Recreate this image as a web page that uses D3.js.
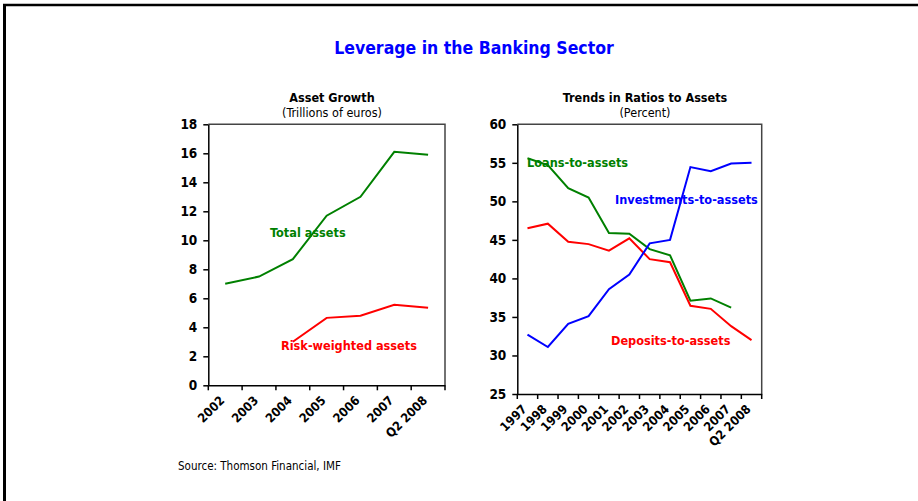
<!DOCTYPE html>
<html>
<head>
<meta charset="utf-8">
<script src="https://cdn.jsdelivr.net/npm/d3@7"></script>
<style>
  body { margin: 0; background: #fff; }
  svg text { font-family: "DejaVu Sans Condensed", "DejaVu Sans", sans-serif; }
</style>
</head>
<body>
<div id="chart"></div>
<script>
// Leverage in the Banking Sector - two panels

// left panel data
const growthYears = ["2002", "2003", "2004", "2005", "2006", "2007", "Q2 2008"];
const totalAssets = [7.0, 7.5, 8.7, 11.7, 13.0, 16.1, 15.9];
const riskWeighted = [null, null, 3.0, 4.65, 4.8, 5.55, 5.35];
const growthTicks = [0, 2, 4, 6, 8, 10, 12, 14, 16, 18];

// right panel data
const ratioYears = ["1997", "1998", "1999", "2000", "2001", "2002", "2003", "2004", "2005", "2006", "2007", "Q2 2008"];
const loansToAssets = [55.6, 54.7, 51.7, 50.5, 45.9, 45.8, 43.8, 43.0, 37.1, 37.4, 36.2, null];
const depositsToAssets = [46.5, 47.1, 44.75, 44.45, 43.6, 45.2, 42.5, 42.1, 36.45, 36.05, 33.8, 32.0];
const investmentsToAssets = [32.7, 31.1, 34.1, 35.1, 38.6, 40.5, 44.55, 45.0, 54.45, 53.9, 54.9, 55.0];
const ratioTicks = [25, 30, 35, 40, 45, 50, 55, 60];

const chartWidth = 918, chartHeight = 501;
const fontStack = "\"DejaVu Sans Condensed\", \"DejaVu Sans\", sans-serif";

var svg = d3.select("#chart")
  .append("svg")
    .attr("width", chartWidth)
    .attr("height", chartHeight);

// outer frame (top and left edges only show)
svg.append("line")
  .attr("x1", 3).attr("x2", chartWidth).attr("y1", 5).attr("y2", 5)
  .attr("stroke", "#000").attr("stroke-width", 2.5);
svg.append("line")
  .attr("x1", 4.5).attr("x2", 4.5).attr("y1", 4).attr("y2", chartHeight)
  .attr("stroke", "#000").attr("stroke-width", 3);

svg.append("text")
  .attr("x", 474).attr("y", 54)
  .attr("text-anchor", "middle")
  .style("font-size", "17.5px").style("font-weight", "bold")
  .attr("fill", "#0000ff")
  .text("Leverage in the Banking Sector");

svg.append("text")
  .attr("x", 178).attr("y", 470)
  .style("font-size", "11.5px")
  .attr("fill", "#000")
  .text("Source: Thomson Financial, IMF");

function panel(opts) {
  var x = d3.scaleBand().domain(opts.cats).range([opts.left, opts.right]);
  var y = d3.scaleLinear().domain(opts.yDomain).range([opts.bottom, opts.top]);

  var g = svg.append("g");

  // titles
  g.append("text")
    .attr("x", opts.titleX).attr("y", 102)
    .attr("text-anchor", "middle")
    .style("font-size", "12.5px").style("font-weight", "bold")
    .text(opts.title);
  g.append("text")
    .attr("x", opts.titleX).attr("y", 117)
    .attr("text-anchor", "middle")
    .style("font-size", "12.5px")
    .text(opts.subtitle);

  // plot frame (top and right)
  g.append("path")
    .attr("d", "M" + opts.left + "," + opts.top + "H" + opts.right + "V" + opts.bottom)
    .attr("fill", "none").attr("stroke", "#444").attr("stroke-width", 1.5);

  // y axis
  var yAxis = g.append("g")
    .attr("transform", "translate(" + opts.left + ",0)")
    .call(d3.axisLeft(y).tickValues(opts.yTicks).tickSize(5).tickSizeOuter(0).tickPadding(6));
  yAxis.selectAll("text")
    .style("font-size", "13.5px").style("font-weight", "bold")
    .style("font-family", fontStack)
    .attr("fill", "#000");
  yAxis.selectAll("line, path").attr("stroke", "#000").attr("stroke-width", 1.5);

  // x axis: ticks on band edges, labels at band centres
  var xAxis = g.append("g")
    .attr("transform", "translate(0," + opts.bottom + ")")
    .call(d3.axisBottom(x).tickSize(0).tickSizeOuter(0).tickPadding(0));
  xAxis.select(".domain").attr("stroke", "#000").attr("stroke-width", 1.5);
  xAxis.selectAll("text")
    .attr("text-anchor", "end")
    .attr("dy", null)
    .attr("transform", "translate(0,16) rotate(-45)")
    .style("font-size", "12.5px").style("font-weight", "bold")
    .style("font-family", fontStack)
    .attr("fill", "#000");
  var edges = opts.cats.map(d => x(d)).concat([x.range()[1]]);
  xAxis.selectAll(".edge")
    .data(edges)
    .enter()
    .append("line")
      .attr("class", "edge")
      .attr("x1", d => d).attr("x2", d => d)
      .attr("y1", 0).attr("y2", 5)
      .attr("stroke", "#000").attr("stroke-width", 1.5);

  var line = d3.line()
    .defined(d => d != null)
    .x((d, i) => x(opts.cats[i]) + x.bandwidth() / 2)
    .y(d => y(d));

  opts.series.forEach(function(s) {
    g.append("path")
      .datum(s.values)
      .attr("d", line)
      .attr("fill", "none")
      .attr("stroke", s.color)
      .attr("stroke-width", 2);
  });

  opts.series.forEach(function(s) {
    g.append("text")
      .attr("x", s.lx).attr("y", s.ly)
      .style("font-size", "12.6px").style("font-weight", "bold")
      .attr("fill", s.color)
      .text(s.name);
  });
}

panel({
  cats: growthYears,
  yDomain: [0, 18],
  yTicks: growthTicks,
  left: 208.3, right: 445, top: 124.3, bottom: 385.3,
  titleX: 332,
  title: "Asset Growth",
  subtitle: "(Trillions of euros)",
  series: [
    {name: "Total assets", values: totalAssets, color: "#008000", lx: 270, ly: 237},
    {name: "Risk-weighted assets", values: riskWeighted, color: "#ff0000", lx: 281, ly: 350}
  ]
});

panel({
  cats: ratioYears,
  yDomain: [25, 60],
  yTicks: ratioTicks,
  left: 517.3, right: 761.7, top: 124.3, bottom: 394,
  titleX: 645,
  title: "Trends in Ratios to Assets",
  subtitle: "(Percent)",
  series: [
    {name: "Loans-to-assets", values: loansToAssets, color: "#008000", lx: 527, ly: 167},
    {name: "Deposits-to-assets", values: depositsToAssets, color: "#ff0000", lx: 611, ly: 345},
    {name: "Investments-to-assets", values: investmentsToAssets, color: "#0000ff", lx: 615, ly: 204}
  ]
});
</script>
</body>
</html>
